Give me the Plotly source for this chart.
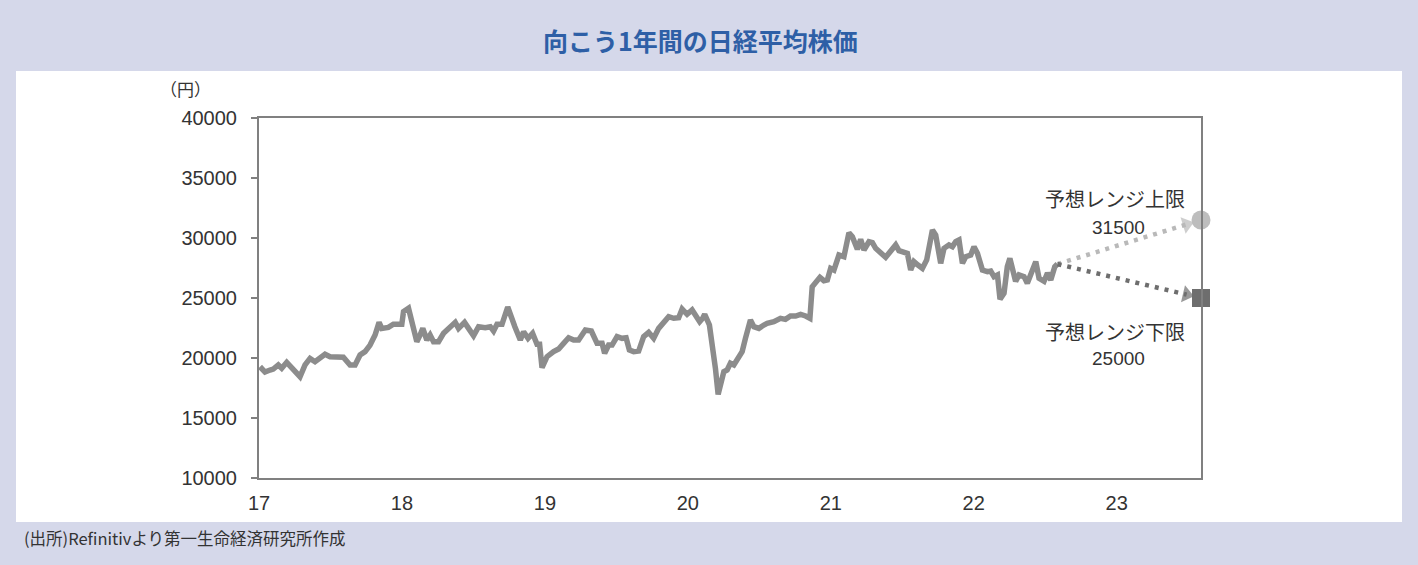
import plotly.graph_objects as go

# ---- data ----
years = [17.007, 17.042, 17.077, 17.100, 17.135, 17.159, 17.194, 17.229, 17.264, 17.287,
         17.322, 17.357, 17.392, 17.427, 17.462, 17.497, 17.532, 17.590, 17.637, 17.672,
         17.707, 17.742, 17.777, 17.812, 17.840, 17.859, 17.905, 17.940, 17.999, 18.011,
         18.046, 18.069, 18.104, 18.127, 18.146, 18.174, 18.197, 18.221, 18.256, 18.291,
         18.326, 18.373, 18.396, 18.438, 18.466, 18.501, 18.536, 18.583, 18.618, 18.641,
         18.665, 18.700, 18.740, 18.770, 18.790, 18.828, 18.851, 18.882, 18.914, 18.945,
         18.963, 18.980, 19.015, 19.061, 19.096, 19.131, 19.166, 19.201, 19.236, 19.283,
         19.325, 19.365, 19.400, 19.418, 19.446, 19.470, 19.505, 19.540, 19.568, 19.591,
         19.621, 19.656, 19.691, 19.726, 19.761, 19.796, 19.831, 19.866, 19.901, 19.936,
         19.960, 19.995, 20.030, 20.058, 20.083, 20.104, 20.118, 20.151, 20.181, 20.193,
         20.212, 20.235, 20.252, 20.275, 20.298, 20.322, 20.345, 20.380, 20.403, 20.438,
         20.462, 20.497, 20.532, 20.555, 20.602, 20.648, 20.683, 20.718, 20.754, 20.789,
         20.824, 20.854, 20.870, 20.894, 20.924, 20.952, 20.976, 20.999, 21.022, 21.057,
         21.092, 21.127, 21.151, 21.186, 21.209, 21.232, 21.267, 21.291, 21.314, 21.384,
         21.454, 21.477, 21.536, 21.559, 21.582, 21.610, 21.641, 21.671, 21.711, 21.734,
         21.769, 21.792, 21.827, 21.851, 21.874, 21.897, 21.921, 21.944, 21.979, 22.002,
         22.026, 22.061, 22.096, 22.119, 22.142, 22.166, 22.184, 22.212, 22.235, 22.253,
         22.270, 22.293, 22.317, 22.352, 22.375, 22.410, 22.434, 22.457, 22.492, 22.516,
         22.539, 22.567, 22.586]
nikkei = [19275, 18830, 19000, 19080, 19420, 19140, 19640, 19140, 18720, 18440,
          19420, 19970, 19690, 19970, 20310, 20110, 20110, 20060, 19420, 19420,
          20250, 20530, 21080, 21920, 22970, 22470, 22550, 22810, 22810, 23860,
          24140, 23030, 21360, 21920, 22470, 21500, 21920, 21360, 21360, 22060,
          22470, 22970, 22470, 22970, 22470, 21860, 22610, 22530, 22610, 22250,
          22810, 22810, 24250, 23170, 22600, 21500, 22190, 21640, 22060, 21140,
          21140, 19190, 20110, 20530, 20750, 21220, 21690, 21500, 21500, 22330,
          22250, 21220, 21220, 20390, 21080, 21080, 21780, 21640, 21690, 20670,
          20530, 20580, 21780, 22140, 21640, 22470, 23030, 23440, 23310, 23360,
          24080, 23640, 24000, 23580, 23030, 23310, 23640, 22750, 20530, 19140,
          16970, 18310, 18860, 19000, 19560, 19420, 19830, 20530, 21640, 23170,
          22610, 22470, 22750, 22890, 23030, 23310, 23220, 23500, 23500, 23640,
          23500, 23310, 25940, 26220, 26720, 26440, 26500, 27470, 27330, 28580,
          28440, 30440, 30110, 29060, 29890, 29000, 29690, 29610, 29140, 28390,
          29420, 28940, 28720, 27330, 28030, 27750, 27470, 28170, 30670, 30250,
          27890, 29140, 29420, 29280, 29690, 29830, 27890, 28440, 28580, 29280,
          28720, 27330, 27190, 27250, 26780, 26920, 24890, 25390, 27610, 28300,
          27610, 26390, 26920, 26780, 26220, 27190, 28030, 26640, 26390, 27080,
          26500, 27610, 27830]

forecast_x = 23.59
forecast_upper = 31500
forecast_lower = 25000

x_ticks = [17, 18, 19, 20, 21, 22, 23]
x_ticktext = ["17", "18", "19", "20", "21", "22", "23"]
y_ticks = [10000, 15000, 20000, 25000, 30000, 35000, 40000]

title_text = "向こう1年間の日経平均株価"
unit_text = "（円）"
source_text = "(出所)Refinitivより第一生命経済研究所作成"
upper_label = "予想レンジ上限"
lower_label = "予想レンジ下限"

# ---- layout geometry (pixels) ----
W, H = 1418, 565
L, R, T, B = 259, 1201, 118, 478
BG = "#d5d8ea"


def px_x(p):
    return (p - L) / (R - L)


def px_y(p):
    return (B - p) / (B - T)


JP = "Noto Sans CJK JP"
NUM = "Liberation Sans, Arial, sans-serif"
TXT = "#333333"
AXC = "#808080"

fig = go.Figure()

# main line
fig.add_trace(go.Scatter(x=years, y=nikkei, mode="lines",
                         line=dict(color="#8c8c8c", width=5.5),
                         hoverinfo="skip", showlegend=False))

# forecast dotted arrows
x0, y0 = years[-1], nikkei[-1]
frac = 0.90
for fy, col in [(forecast_upper, "#b9b9b9"), (forecast_lower, "#6e6e6e")]:
    xe = x0 + (forecast_x - x0) * frac
    ye = y0 + (fy - y0) * frac
    fig.add_trace(go.Scatter(
        x=[x0, xe], y=[y0, ye], mode="lines+markers",
        line=dict(color=col, width=4.5, dash="4px,6px"),
        marker=dict(size=[0, 15], symbol="triangle-up", angleref="previous",
                    color=col, line=dict(width=0)),
        cliponaxis=False, hoverinfo="skip", showlegend=False))

# end markers
fig.add_trace(go.Scatter(x=[forecast_x], y=[forecast_upper], mode="markers",
                         marker=dict(symbol="circle", size=19, color="#bdbdbd"),
                         cliponaxis=False, hoverinfo="skip", showlegend=False))
fig.add_trace(go.Scatter(x=[forecast_x], y=[forecast_lower], mode="markers",
                         marker=dict(symbol="square", size=18, color="#6e6e6e"),
                         cliponaxis=False, hoverinfo="skip", showlegend=False))

# white panel
fig.add_shape(type="rect", xref="paper", yref="paper",
              x0=px_x(16), x1=px_x(1402), y0=px_y(522), y1=px_y(71),
              fillcolor="white", line=dict(width=0), layer="below")

ann = []
ann.append(dict(text="<b>" + title_text + "</b>", x=px_x(700), y=px_y(40),
                font=dict(family=JP, size=25, color="#2e5fa6")))
ann.append(dict(text=unit_text, x=px_x(185), y=px_y(88),
                font=dict(family=JP, size=17, color=TXT)))
ann.append(dict(text=source_text, x=px_x(22), y=px_y(538), xanchor="left",
                font=dict(family=JP, size=16.5, color=TXT)))
ann.append(dict(text=upper_label, x=px_x(1115), y=px_y(198),
                font=dict(family=JP, size=20, color=TXT)))
ann.append(dict(text=f"{forecast_upper}", x=px_x(1118), y=px_y(227),
                font=dict(family=NUM, size=19, color=TXT)))
ann.append(dict(text=lower_label, x=px_x(1115), y=px_y(331),
                font=dict(family=JP, size=20, color=TXT)))
ann.append(dict(text=f"{forecast_lower}", x=px_x(1118), y=px_y(358),
                font=dict(family=NUM, size=19, color=TXT)))
for a in ann:
    a.setdefault("xanchor", "center")
    a.update(xref="paper", yref="paper", yanchor="middle", showarrow=False)

fig.update_layout(
    width=W, height=H, autosize=False,
    margin=dict(l=L, r=W - R, t=T, b=H - B, pad=0),
    paper_bgcolor=BG, plot_bgcolor="white",
    annotations=ann,
    xaxis=dict(range=[17, forecast_x], tickvals=x_ticks, ticktext=x_ticktext,
               showgrid=False, zeroline=False, showline=True, mirror=True,
               linecolor=AXC, linewidth=2, ticks="", ticklabelstandoff=6,
               tickfont=dict(family=NUM, size=20, color=TXT)),
    yaxis=dict(range=[10000, 40000], tickvals=y_ticks, tickformat="d",
               showgrid=False, zeroline=False, showline=True, mirror=True,
               linecolor=AXC, linewidth=2, ticks="outside", ticklen=6,
               tickcolor=AXC, tickwidth=2, ticklabelstandoff=10,
               tickfont=dict(family=NUM, size=20, color=TXT)),
)

fig.write_html(
    "out.html",
    config={"displayModeBar": False},
    post_script=("document.body.style.margin='0';"
                 "document.body.style.padding='0';"
                 "document.body.style.overflow='hidden';"
                 "document.body.style.background='" + BG + "';"),
)
